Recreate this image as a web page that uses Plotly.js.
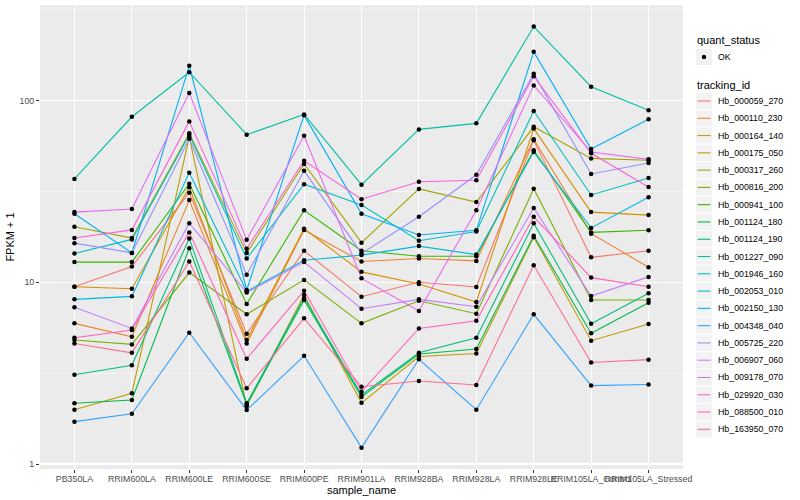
<!DOCTYPE html>
<html>
<head>
<meta charset="utf-8">
<script src="https://cdn.plot.ly/plotly-3.0.1.min.js"></script>
<style>html,body{margin:0;padding:0;background:#fff;}#chart{width:800px;height:500px;}</style>
</head>
<body>
<div id="chart"></div>
<script>
const samples = ['PB350LA','RRIM600LA','RRIM600LE','RRIM600SE','RRIM600PE','RRIM901LA','RRIM928BA','RRIM928LA','RRIM928LE','RRIM105LA_Control','RRIM105LA_Stressed'];
const trackingIds = ['Hb_000059_270','Hb_000110_230','Hb_000164_140','Hb_000175_050','Hb_000317_260','Hb_000816_200','Hb_000941_100','Hb_001124_180','Hb_001124_190','Hb_001227_090','Hb_001946_160','Hb_002053_010','Hb_002150_130','Hb_004348_040','Hb_005725_220','Hb_006907_060','Hb_009178_070','Hb_029920_030','Hb_088500_010','Hb_163950_070'];
const colors = ['#F8766D','#EA8331','#D89000','#C09B00','#A3A500','#7CAE00','#39B600','#00BB4E','#00BF7D','#00C1A3','#00BFC4','#00BAE0','#00B0F6','#35A2FF','#9590FF','#C77CFF','#E76BF3','#FA62DB','#FF62BC','#FF6C91'];
const quantStatus = ['OK'];

const hb_000059_270 = [9.45, 12.2, 31.1, 5.21, 14.9, 8.32, 10.0, 9.41, 60.3, 13.7, 14.9];
const hb_000110_230 = [5.94, 5.01, 28.3, 4.6, 19.4, 13.0, 13.5, 13.1, 61.1, 18.5, 12.1];
const hb_000164_140 = [9.45, 9.2, 33.3, 4.81, 19.7, 11.4, 9.78, 7.78, 70, 24.3, 23.4];
const hb_000175_050 = [1.99, 2.45, 63, 2.08, 8.5, 2.17, 3.9, 4.05, 17.7, 4.77, 5.89];
const hb_000317_260 = [20.2, 17.5, 65.9, 14.5, 44.7, 16.5, 32.6, 27.6, 71.6, 48.0, 46.9];
const hb_000816_200 = [4.81, 4.55, 11.3, 6.66, 10.3, 5.94, 7.91, 6.71, 32.7, 7.98, 7.98];
const hb_000941_100 = [12.9, 12.9, 34.8, 7.59, 24.9, 14.9, 13.9, 13.9, 53.2, 18.8, 19.3];
const hb_001124_180 = [2.16, 2.25, 15.4, 2.12, 7.98, 2.34, 4.03, 4.29, 18.0, 5.24, 7.71];
const hb_001124_190 = [3.10, 3.49, 17.4, 2.16, 8.2, 2.40, 4.09, 4.95, 21.1, 5.91, 8.69];
const hb_001227_090 = [37.0, 81.3, 143, 64.8, 83.8, 34.4, 69.3, 74.8, 255, 119, 88.2];
const hb_001946_160 = [14.4, 17.2, 64.5, 13.5, 34.6, 26.6, 16.9, 19.0, 87.5, 30.2, 37.4];
const hb_002053_010 = [8.05, 8.36, 40.0, 8.9, 13.2, 14.1, 15.8, 14.2, 52, 19.9, 29.3];
const hb_002150_130 = [23.8, 14.5, 155, 9.06, 83.0, 23.8, 18.2, 19.3, 185, 54.0, 78.7];
const hb_004348_040 = [1.71, 1.89, 5.27, 1.98, 3.94, 1.23, 3.77, 1.99, 6.66, 2.70, 2.74];
const hb_005725_220 = [16.4, 14.5, 61.6, 11.0, 41.0, 14.4, 22.9, 39.0, 140, 39.4, 45.3];
const hb_006907_060 = [7.28, 5.57, 21.1, 8.78, 12.9, 7.15, 8.05, 7.33, 25.6, 8.4, 10.7];
const hb_009178_070 = [24.3, 25.3, 110, 17.1, 63.9, 10.5, 6.95, 24.9, 121, 52.0, 47.4];
const hb_029920_030 = [17.5, 19.4, 76.7, 15.3, 46.6, 28.6, 35.7, 36.4, 136, 51.2, 33.4];
const hb_088500_010 = [4.95, 5.46, 18.8, 3.79, 8.98, 2.50, 5.57, 6.14, 22.9, 10.6, 9.45];
const hb_163950_070 = [4.6, 4.09, 13.0, 2.61, 6.33, 2.66, 2.86, 2.72, 12.4, 3.62, 3.75];

const seriesValues = [hb_000059_270, hb_000110_230, hb_000164_140, hb_000175_050, hb_000317_260, hb_000816_200, hb_000941_100, hb_001124_180, hb_001124_190, hb_001227_090, hb_001946_160, hb_002053_010, hb_002150_130, hb_004348_040, hb_005725_220, hb_006907_060, hb_009178_070, hb_029920_030, hb_088500_010, hb_163950_070];

const FONT = '"Liberation Sans", Arial, Helvetica, sans-serif';
const W = 800, H = 500;
const M = {l: 40, r: 116.5, t: 5, b: 31};
const plotW = W - M.l - M.r, plotH = H - M.t - M.b;
const pxX = p => (p - M.l) / plotW;      // pixel -> paper x
const pxY = p => 1 - (p - M.t) / plotH;  // pixel -> paper y

const traces = [];
seriesValues.forEach((vals, i) => {
  traces.push({
    type: 'scatter', mode: 'lines', x: samples, y: vals,
    name: trackingIds[i], showlegend: false,
    line: {color: colors[i], width: 1.1},
    hoverinfo: 'skip'
  });
});
const px = [], py = [];
seriesValues.forEach(vals => { vals.forEach((v, j) => { px.push(samples[j]); py.push(v); }); });
traces.push({
  type: 'scatter', mode: 'markers', x: px, y: py, name: quantStatus[0], showlegend: false,
  marker: {color: '#000000', size: 4.5}
});

// legend drawn in the right-hand margin (ggplot-style keys)
const shapes = [], annotations = [];
const keyL = 696.5, keyR = 712.5, textX = 716.5;
const title = (txt, y) => annotations.push({xref: 'paper', yref: 'paper', x: pxX(695.5), y: pxY(y), xanchor: 'left', yanchor: 'middle', showarrow: false, text: txt, font: {family: FONT, size: 11, color: '#000000'}});
const label = (txt, y) => annotations.push({xref: 'paper', yref: 'paper', x: pxX(textX), y: pxY(y), xanchor: 'left', yanchor: 'middle', showarrow: false, text: txt, font: {family: FONT, size: 8.8, color: '#000000'}});
const keyBox = (yc) => shapes.push({type: 'rect', xref: 'paper', yref: 'paper', x0: pxX(keyL), x1: pxX(keyR), y0: pxY(yc - 8.1), y1: pxY(yc + 8.1), fillcolor: '#F2F2F2', line: {width: 0}, layer: 'above'});

title('quant_status', 40);
keyBox(57);
shapes.push({type: 'circle', xref: 'paper', yref: 'paper', x0: pxX(702.3), x1: pxX(706.7), y0: pxY(54.8), y1: pxY(59.2), fillcolor: '#000000', line: {width: 0}, layer: 'above'});
label(quantStatus[0], 57);

title('tracking_id', 85);
trackingIds.forEach((id, i) => {
  const yc = 101 + i * 17.28;
  keyBox(yc);
  shapes.push({type: 'line', xref: 'paper', yref: 'paper', x0: pxX(698), x1: pxX(711), y0: pxY(yc), y1: pxY(yc), line: {color: colors[i], width: 1.1}, layer: 'above'});
  label(id, yc);
});

const layout = {
  width: W, height: H, autosize: false,
  paper_bgcolor: '#FFFFFF', plot_bgcolor: '#EBEBEB',
  margin: M,
  font: {family: FONT, size: 9, color: '#000000'},
  showlegend: false,
  xaxis: {
    type: 'category', categoryorder: 'array', categoryarray: samples,
    range: [-0.6, 10.6], showgrid: true, gridcolor: '#FFFFFF', gridwidth: 1.1,
    zeroline: false, showline: false, ticks: 'outside', ticklen: 3, tickcolor: '#333333', tickwidth: 1,
    ticklabelstandoff: -2,
    tickangle: 0, tickfont: {family: FONT, size: 8.8, color: '#4D4D4D'},
    title: {text: 'sample_name', font: {family: FONT, size: 11, color: '#000000'}, standoff: 0}
  },
  yaxis: {
    type: 'log', range: [-0.0275, 2.525], tickmode: 'array', tickvals: [1, 10, 100], ticktext: ['1', '10', '100'],
    showgrid: true, gridcolor: '#FFFFFF', gridwidth: 1.1, zeroline: false, showline: false,
    ticks: 'outside', ticklen: 3, tickcolor: '#333333', tickwidth: 1,
    tickfont: {family: FONT, size: 8.8, color: '#4D4D4D'},
    minor: {tickmode: 'array', tickvals: [0.31623, 3.1623, 31.623, 316.23], showgrid: true, gridcolor: '#FFFFFF', gridwidth: 0.5, ticks: ''},
    title: {text: 'FPKM + 1', font: {family: FONT, size: 11, color: '#000000'}, standoff: 2}
  },
  shapes: shapes,
  annotations: annotations
};

Plotly.newPlot('chart', traces, layout, {displayModeBar: false, staticPlot: true});
</script>
</body>
</html>
